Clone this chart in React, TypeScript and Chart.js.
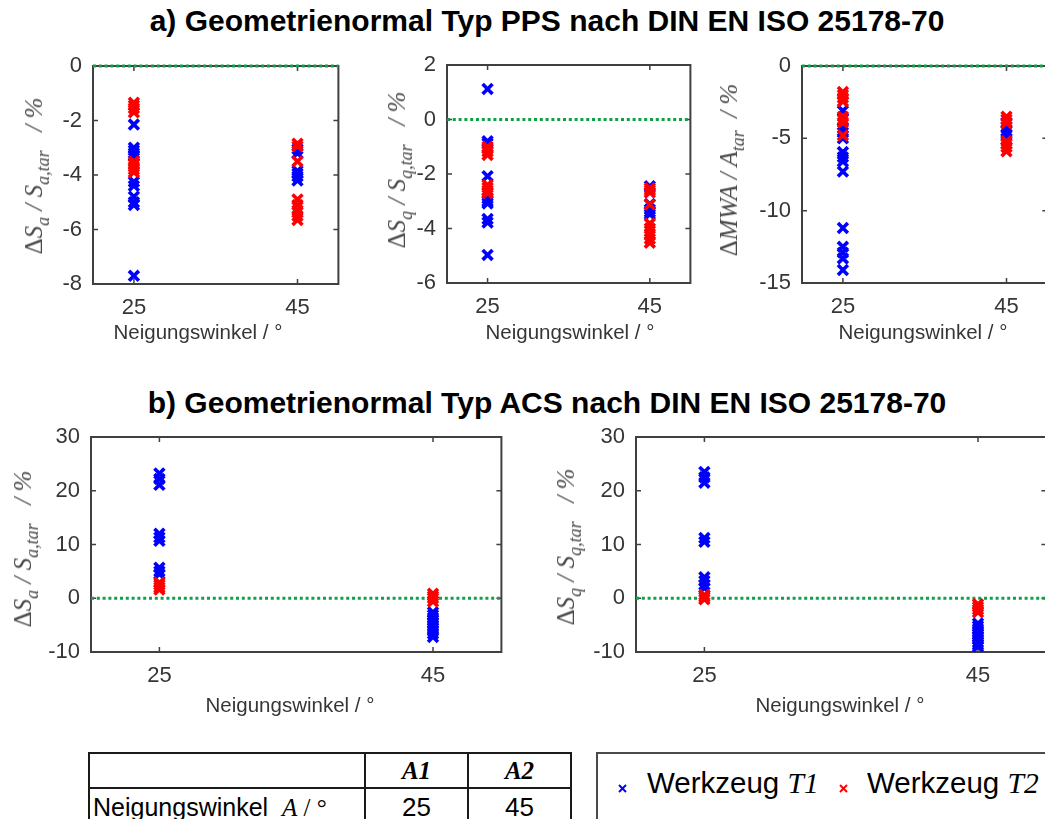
import React, { useEffect, useRef } from 'react';
import { Chart, registerables } from 'chart.js';

Chart.register(...registerables);

// ---------- shared axis data ----------
const X_MIN = 20;
const X_MAX = 50;
const X_TICKS = [25, 45];
const ANGLE_A1 = 25;
const ANGLE_A2 = 45;
const ZERO_LINE_X = [20, 50];
const ZERO_LINE_Y = [0, 0];

// ---------- a) PPS : dSa / Sa,tar (%) ----------
const ppsSa_T1_A1 = [-2.15, -3.0, -3.1, -3.2, -3.3, -4.25, -4.4, -4.8, -5.0, -5.1, -7.7];
const ppsSa_T2_A1 = [-1.35, -1.45, -1.55, -1.7, -3.5, -3.6, -3.7, -3.8, -3.9];
const ppsSa_T1_A2 = [-3.05, -3.2, -3.85, -3.95, -4.05, -4.2];
const ppsSa_T2_A2 = [-2.85, -2.95, -3.5, -4.9, -5.1, -5.3, -5.5, -5.65];

// ---------- a) PPS : dSq / Sq,tar (%) ----------
const ppsSq_T1_A1 = [1.12, -0.8, -0.88, -2.08, -2.9, -3.0, -3.08, -3.65, -3.78, -4.97];
const ppsSq_T2_A1 = [-1.0, -1.08, -1.18, -1.3, -2.4, -2.5, -2.6, -2.7];
const ppsSq_T1_A2 = [-2.45, -3.1, -3.3, -3.4, -3.48];
const ppsSq_T2_A2 = [-2.52, -2.6, -2.68, -3.12, -3.82, -4.0, -4.2, -4.38, -4.52];

// ---------- a) PPS : dMWA / Atar (%) ----------
const ppsMwa_T1_A1 = [-3.1, -4.3, -4.6, -5.0, -5.95, -6.3, -6.6, -7.3, -11.2, -12.5, -12.9, -13.3, -14.1];
const ppsMwa_T2_A1 = [-1.8, -2.0, -2.2, -2.45, -3.5, -3.7, -3.9, -4.8];
const ppsMwa_T1_A2 = [-3.9, -4.2, -4.5, -4.8, -5.1];
const ppsMwa_T2_A2 = [-3.5, -3.7, -3.95, -5.2, -5.4, -5.6, -5.9];

// ---------- b) ACS : dSa / Sa,tar (%) ----------
const acsSa_T1_A1 = [23.2, 22.2, 21.1, 12.0, 11.3, 10.7, 5.7, 5.0, 4.5];
const acsSa_T2_A1 = [2.9, 2.5, 2.0, 1.6];
const acsSa_T1_A2 = [-2.6, -3.1, -3.6, -4.1, -4.6, -5.1, -5.6, -6.1, -6.6, -7.2];
const acsSa_T2_A2 = [0.85, 0.4, 0.0, -0.6];

// ---------- b) ACS : dSq / Sq,tar (%) ----------
const acsSq_T1_A1 = [23.5, 22.5, 21.5, 11.2, 10.5, 3.9, 3.2, 2.5, 1.9];
const acsSq_T2_A1 = [0.6, 0.2, -0.2];
const acsSq_T1_A2 = [-4.7, -5.2, -5.7, -6.2, -6.7, -7.2, -7.7, -8.2, -8.6, -9.0];
const acsSq_T2_A2 = [-1.1, -1.6, -2.1, -2.6];

// ---------- table / legend text ----------
const TABLE_HEADERS = ['A1', 'A2'];
const TABLE_ANGLES = ['25', '45'];
const LEGEND_T1 = 'T1';
const LEGEND_T2 = 'T2';

// ---------- styles ----------
const SANS = "'Liberation Sans', Arial, Helvetica, sans-serif";
const SERIF = "'Liberation Serif', 'Times New Roman', Times, serif";
const BLUE = '#0000ff';
const RED = '#ff0000';
const GREEN = 'rgb(16,160,72)';
const AXIS = '#404040';
const TICK_TEXT = '#363636';
const LABEL_TEXT = '#4a4a4a';

const AXIS_W = 70;
const AXIS_H = 45;
const PAD_T = 16;
const PAD_R = 6;

const boxPlugin = {
  id: 'matlabBox',
  beforeDatasetsDraw(chart: any) {
    const { ctx, chartArea: a, scales } = chart;
    ctx.save();
    ctx.strokeStyle = AXIS;
    ctx.lineWidth = 2;
    ctx.strokeRect(a.left, a.top, a.right - a.left, a.bottom - a.top);
    ctx.lineWidth = 1.5;
    const tl = 5;
    ctx.beginPath();
    scales.y.ticks.forEach((t: any) => {
      const y = scales.y.getPixelForValue(t.value);
      ctx.moveTo(a.left, y);
      ctx.lineTo(a.left + tl, y);
      ctx.moveTo(a.right, y);
      ctx.lineTo(a.right - tl, y);
    });
    scales.x.ticks.forEach((t: any) => {
      const x = scales.x.getPixelForValue(t.value);
      ctx.moveTo(x, a.bottom);
      ctx.lineTo(x, a.bottom - tl);
      ctx.moveTo(x, a.top);
      ctx.lineTo(x, a.top + tl);
    });
    ctx.stroke();
    ctx.restore();
  },
};

type Panel = {
  left: number;
  top: number;
  w: number;
  h: number;
  yMin: number;
  yMax: number;
  yStep: number;
  t1a1: number[];
  t1a2: number[];
  t2a1: number[];
  t2a2: number[];
};

const pts = (x: number, ys: number[]) => ys.map((y) => ({ x, y }));

const zeroScalePadding = (s: any) => {
  s.paddingTop = 0;
  s.paddingBottom = 0;
  s.paddingLeft = 0;
  s.paddingRight = 0;
};

function ScatterPanel({ p }: { p: Panel }) {
  const ref = useRef<HTMLCanvasElement>(null);
  const cw = AXIS_W + p.w + PAD_R;
  const ch = PAD_T + p.h + AXIS_H;
  useEffect(() => {
    const canvas = ref.current!;
    const marker = (label: string, color: string, data: any[], order: number) => ({
      label,
      data,
      order,
      pointStyle: 'crossRot',
      pointRadius: 7,
      pointHoverRadius: 7,
      pointBorderWidth: 3.6,
      borderColor: color,
      backgroundColor: color,
      showLine: false,
    });
    const chart = new Chart(canvas, {
      type: 'scatter',
      data: {
        datasets: [
          {
            label: 'Soll',
            data: ZERO_LINE_X.map((x, i) => ({ x, y: ZERO_LINE_Y[i] })),
            showLine: true,
            borderColor: GREEN,
            borderWidth: 3,
            borderDash: [3, 2.8],
            pointRadius: 0,
            order: 2,
            clip: false,
          } as any,
          marker('Werkzeug T1', BLUE, [...pts(ANGLE_A1, p.t1a1), ...pts(ANGLE_A2, p.t1a2)], 1),
          marker('Werkzeug T2', RED, [...pts(ANGLE_A1, p.t2a1), ...pts(ANGLE_A2, p.t2a2)], 0),
        ],
      },
      options: {
        responsive: false,
        maintainAspectRatio: false,
        animation: false,
        events: [],
        layout: { padding: { top: PAD_T, right: PAD_R, left: 0, bottom: 0 } },
        plugins: { legend: { display: false }, tooltip: { enabled: false }, title: { display: false } },
        scales: {
          x: {
            type: 'linear',
            min: X_MIN,
            max: X_MAX,
            grid: { display: false, drawTicks: false },
            border: { display: false },
            afterBuildTicks: (s: any) => {
              s.ticks = X_TICKS.map((v) => ({ value: v }));
            },
            afterFit: (s: any) => {
              s.height = AXIS_H;
              zeroScalePadding(s);
            },
            ticks: {
              font: { family: SANS, size: 22 },
              color: TICK_TEXT,
              padding: 11,
              maxRotation: 0,
              autoSkip: false,
            },
          },
          y: {
            type: 'linear',
            min: p.yMin,
            max: p.yMax,
            grid: { display: false, drawTicks: false },
            border: { display: false },
            afterFit: (s: any) => {
              s.width = AXIS_W;
              zeroScalePadding(s);
            },
            ticks: {
              stepSize: p.yStep,
              font: { family: SANS, size: 22 },
              color: TICK_TEXT,
              padding: 11,
            },
          },
        },
      } as any,
      plugins: [boxPlugin],
    });
    return () => chart.destroy();
  }, []);
  return (
    <canvas
      ref={ref}
      width={cw}
      height={ch}
      style={{ position: 'absolute', left: p.left - AXIS_W, top: p.top - PAD_T, width: cw, height: ch }}
    />
  );
}

const Sub = ({ children }: { children: React.ReactNode }) => (
  <span style={{ fontSize: '0.72em', position: 'relative', top: '0.38em' }}>{children}</span>
);

function YLabel({ cx, cy, children }: { cx: number; cy: number; children: React.ReactNode }) {
  return (
    <div
      style={{
        position: 'absolute',
        left: cx,
        top: cy,
        transform: 'translate(-50%, -50%) rotate(-90deg)',
        whiteSpace: 'nowrap',
        fontFamily: SERIF,
        fontStyle: 'italic',
        fontSize: 25,
        lineHeight: '25px',
        color: LABEL_TEXT,
      }}
    >
      {children}
    </div>
  );
}

function XTitle({ cx, cy }: { cx: number; cy: number }) {
  return (
    <div
      style={{
        position: 'absolute',
        left: cx,
        top: cy,
        transform: 'translate(-50%, -50%)',
        whiteSpace: 'nowrap',
        fontFamily: SANS,
        fontSize: 20.5,
        lineHeight: '24px',
        color: TICK_TEXT,
      }}
    >
      Neigungswinkel / °
    </div>
  );
}

function Title({ baseline, text }: { baseline: number; text: string }) {
  const fs = 30;
  return (
    <div
      style={{
        position: 'absolute',
        left: 547,
        top: baseline - 0.847 * fs,
        transform: 'translateX(-50%)',
        whiteSpace: 'nowrap',
        fontFamily: SANS,
        fontWeight: 'bold',
        fontSize: fs,
        lineHeight: `${fs}px`,
        color: '#000',
      }}
    >
      {text}
    </div>
  );
}

const SaLabel = (
  <>
    <span style={{ fontStyle: 'normal' }}>Δ</span>S<Sub>a</Sub>&nbsp;/ S<Sub>a,tar</Sub>&nbsp;&nbsp; / %
  </>
);
const SqLabel = (
  <>
    <span style={{ fontStyle: 'normal' }}>Δ</span>S<Sub>q</Sub>&nbsp;/ S<Sub>q,tar</Sub>&nbsp;&nbsp; / %
  </>
);
const MwaLabel = (
  <>
    <span style={{ fontStyle: 'normal' }}>Δ</span>MWA / A<Sub>tar</Sub>&nbsp; / %
  </>
);

const panels: Panel[] = [
  { left: 93, top: 66, w: 250, h: 218, yMin: -8, yMax: 0, yStep: 2, t1a1: ppsSa_T1_A1, t1a2: ppsSa_T1_A2, t2a1: ppsSa_T2_A1, t2a2: ppsSa_T2_A2 },
  { left: 447, top: 65, w: 248, h: 218, yMin: -6, yMax: 2, yStep: 2, t1a1: ppsSq_T1_A1, t1a2: ppsSq_T1_A2, t2a1: ppsSq_T2_A1, t2a2: ppsSq_T2_A2 },
  { left: 802, top: 66, w: 250, h: 217, yMin: -15, yMax: 0, yStep: 5, t1a1: ppsMwa_T1_A1, t1a2: ppsMwa_T1_A2, t2a1: ppsMwa_T2_A1, t2a2: ppsMwa_T2_A2 },
  { left: 91, top: 437, w: 415, h: 215, yMin: -10, yMax: 30, yStep: 10, t1a1: acsSa_T1_A1, t1a2: acsSa_T1_A2, t2a1: acsSa_T2_A1, t2a2: acsSa_T2_A2 },
  { left: 636, top: 437, w: 415, h: 215, yMin: -10, yMax: 30, yStep: 10, t1a1: acsSq_T1_A1, t1a2: acsSq_T1_A2, t2a1: acsSq_T2_A1, t2a2: acsSq_T2_A2 },
];

const Cross = ({ color, left, top }: { color: string; left: number; top: number }) => (
  <svg width={9} height={9} style={{ position: 'absolute', left, top }}>
    <line x1={1} y1={1} x2={8} y2={8} stroke={color} strokeWidth={2} />
    <line x1={8} y1={1} x2={1} y2={8} stroke={color} strokeWidth={2} />
  </svg>
);

export default function App() {
  const cellBorder = '2px solid #1a1a1a';
  const legendFs = 29.5;
  return (
    <div
      style={{
        position: 'fixed',
        left: 0,
        top: 0,
        width: 1045,
        height: 819,
        overflow: 'hidden',
        background: '#ffffff',
      }}
    >
      <Title baseline={31} text="a) Geometrienormal Typ PPS nach DIN EN ISO 25178-70" />
      <Title baseline={413} text="b) Geometrienormal Typ ACS nach DIN EN ISO 25178-70" />

      {panels.map((p, i) => (
        <ScatterPanel key={i} p={p} />
      ))}

      <YLabel cx={35} cy={176}>{SaLabel}</YLabel>
      <YLabel cx={398} cy={170}>{SqLabel}</YLabel>
      <YLabel cx={730} cy={170}>{MwaLabel}</YLabel>
      <YLabel cx={24} cy={549}>{SaLabel}</YLabel>
      <YLabel cx={567} cy={547}>{SqLabel}</YLabel>

      <XTitle cx={198} cy={332} />
      <XTitle cx={570} cy={332} />
      <XTitle cx={923} cy={332} />
      <XTitle cx={290} cy={705} />
      <XTitle cx={840} cy={705} />

      {/* parameter table */}
      <table
        style={{
          position: 'absolute',
          left: 88,
          top: 752,
          borderCollapse: 'collapse',
          tableLayout: 'fixed',
          width: 482,
        }}
      >
        <colgroup>
          <col style={{ width: 276 }} />
          <col style={{ width: 103 }} />
          <col style={{ width: 103 }} />
        </colgroup>
        <tbody>
          <tr style={{ height: 35 }}>
            <td style={{ border: cellBorder, padding: 0 }}></td>
            {TABLE_HEADERS.map((h) => (
              <td
                key={h}
                style={{
                  border: cellBorder,
                  padding: 0,
                  textAlign: 'center',
                  fontFamily: SERIF,
                  fontStyle: 'italic',
                  fontWeight: 'bold',
                  fontSize: 25,
                  lineHeight: '25px',
                }}
              >
                {h}
              </td>
            ))}
          </tr>
          <tr style={{ height: 50 }}>
            <td
              style={{
                border: cellBorder,
                padding: '6px 0 0 3px',
                verticalAlign: 'top',
                fontFamily: SANS,
                fontSize: 25,
                lineHeight: '25px',
                whiteSpace: 'nowrap',
              }}
            >
              Neigungswinkel&nbsp; <span style={{ fontFamily: SERIF, fontStyle: 'italic' }}>A</span>
              <span style={{ fontFamily: SERIF }}> / °</span>
            </td>
            {TABLE_ANGLES.map((v) => (
              <td
                key={v}
                style={{
                  border: cellBorder,
                  padding: '6px 0 0 0',
                  verticalAlign: 'top',
                  textAlign: 'center',
                  fontFamily: SANS,
                  fontSize: 26,
                  lineHeight: '25px',
                }}
              >
                {v}
              </td>
            ))}
          </tr>
        </tbody>
      </table>

      {/* legend */}
      <div
        style={{
          position: 'absolute',
          left: 596,
          top: 752,
          width: 500,
          height: 120,
          border: '2px solid #4a4a4a',
          boxSizing: 'border-box',
        }}
      />
      <Cross color={BLUE} left={618} top={784} />
      <div
        style={{
          position: 'absolute',
          left: 647,
          top: 793 - 0.847 * legendFs,
          fontFamily: SANS,
          fontSize: legendFs,
          lineHeight: `${legendFs}px`,
          whiteSpace: 'nowrap',
          color: '#000',
        }}
      >
        Werkzeug <span style={{ fontFamily: SERIF, fontStyle: 'italic' }}>{LEGEND_T1}</span>
      </div>
      <Cross color={RED} left={839} top={784} />
      <div
        style={{
          position: 'absolute',
          left: 867,
          top: 793 - 0.847 * legendFs,
          fontFamily: SANS,
          fontSize: legendFs,
          lineHeight: `${legendFs}px`,
          whiteSpace: 'nowrap',
          color: '#000',
        }}
      >
        Werkzeug <span style={{ fontFamily: SERIF, fontStyle: 'italic' }}>{LEGEND_T2}</span>
      </div>
    </div>
  );
}
